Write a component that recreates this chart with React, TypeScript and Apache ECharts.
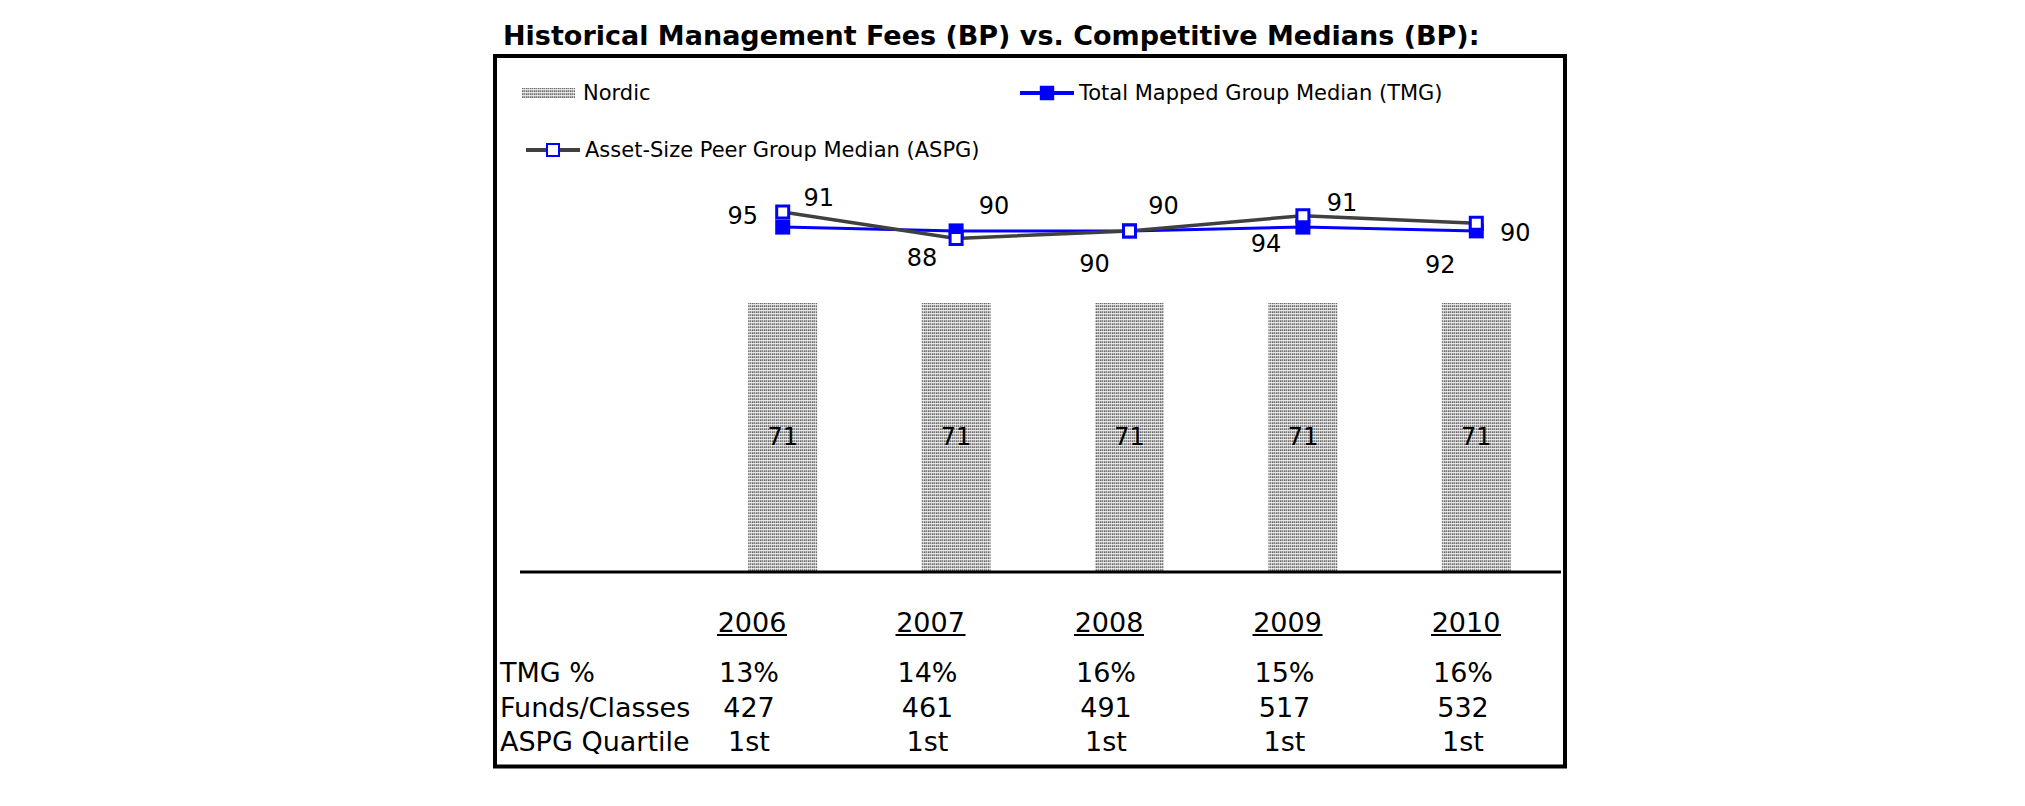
import React, { useEffect, useRef } from "react";
import * as echarts from "echarts";

// ---- data ----
const years = ["2006", "2007", "2008", "2009", "2010"];
const nordic = [71, 71, 71, 71, 71];
const tmg = [91, 90, 90, 91, 90];
const aspg = [95, 88, 90, 94, 92];
const rowLabels = ["TMG %", "Funds/Classes", "ASPG Quartile"];
const tmgPct = ["13%", "14%", "16%", "15%", "16%"];
const fundsClasses = ["427", "461", "491", "517", "532"];
const aspgQuartile = ["1st", "1st", "1st", "1st", "1st"];
const titleText = "Historical Management Fees (BP) vs. Competitive Medians (BP):";
const nameNordic = "Nordic";
const nameTmg = "Total Mapped Group Median (TMG)";
const nameAspg = "Asset-Size Peer Group Median (ASPG)";

// ---- label placement (presentation only) ----
const tmgLabelOffsets = [[36, -29], [38, -25], [34, -25], [39, -24], [39, 2]];
const aspgLabelOffsets = [[-40, 4], [-34, 20], [-35, 33], [-37, 28], [-36, 42]];

const FONT = "'DejaVu Sans', Verdana, sans-serif";

function makePattern(): HTMLCanvasElement {
  const c = document.createElement("canvas");
  const px = [
    ["#6a6a6a", "#a8a8a8", "#7e7e7e", "#c4c4c4"],
    ["#dcdcdc", "#ebebeb", "#e0e0e0", "#f0f0f0"],
    ["#929292", "#bcbcbc", "#8a8a8a", "#d2d2d2"],
  ];
  c.width = px[0].length;
  c.height = px.length;
  const ctx = c.getContext("2d")!;
  px.forEach((row, y) =>
    row.forEach((col, x) => {
      ctx.fillStyle = col;
      ctx.fillRect(x, y, 1, 1);
    })
  );
  return c;
}

export default function App() {
  const ref = useRef<HTMLDivElement>(null);

  useEffect(() => {
    if (!ref.current) return;
    const chart = echarts.init(ref.current, null, { renderer: "svg" });

    const canvas = makePattern();
    const pattern: any = {
      image: canvas,
      repeat: "repeat",
      imageWidth: canvas.width,
      imageHeight: canvas.height,
    };

    const gridLeft = 696;
    const gridWidth = 867;
    const baseY = 572;

    // table
    const colX0 = 752;
    const colDX = 178.5;
    const yearY = 622;
    const rowYs = [672, 707, 741];
    const rows = [tmgPct, fundsClasses, aspgQuartile];
    const tableFont = `27px ${FONT}`;
    const graphics: any[] = [
      {
        type: "rect",
        z: 100,
        shape: { x: 495, y: 56, width: 1070, height: 710.5 },
        style: { fill: "none", stroke: "#000", lineWidth: 4 },
      },
      {
        type: "line",
        z: 100,
        shape: { x1: 520, y1: baseY, x2: gridLeft + gridWidth - 2, y2: baseY },
        style: { stroke: "#000", lineWidth: 3 },
      },
    ];
    years.forEach((yr, i) => {
      const cx = colX0 + i * colDX;
      graphics.push({
        type: "text",
        x: cx,
        y: yearY,
        style: { text: yr, font: tableFont, fill: "#000", align: "center", verticalAlign: "middle" },
      });
      graphics.push({
        type: "line",
        shape: { x1: cx - 35, y1: yearY + 13, x2: cx + 35, y2: yearY + 13 },
        style: { stroke: "#000", lineWidth: 2 },
      });
      rows.forEach((r, ri) => {
        graphics.push({
          type: "text",
          x: cx - 3,
          y: rowYs[ri],
          style: { text: r[i], font: tableFont, fill: "#000", align: "center", verticalAlign: "middle" },
        });
      });
    });
    rowLabels.forEach((lab, ri) => {
      graphics.push({
        type: "text",
        x: 500,
        y: rowYs[ri],
        style: { text: lab, font: tableFont, fill: "#000", align: "left", verticalAlign: "middle" },
      });
    });

    const legendText = { fontSize: 21, color: "#000", fontFamily: FONT, lineHeight: 24 };

    chart.setOption({
      animation: false,
      backgroundColor: "#fff",
      title: {
        text: titleText,
        left: 503,
        top: 22,
        padding: 0,
        textStyle: { fontSize: 27, fontWeight: "bold", color: "#000", fontFamily: FONT },
      },
      legend: [
        {
          data: [{ name: nameNordic, icon: "rect" }],
          left: 522,
          top: 81,
          padding: 0,
          itemWidth: 53,
          itemHeight: 10,
          textStyle: { ...legendText, padding: [0, 0, 0, 3] },
        },
        {
          data: [nameTmg],
          left: 1018,
          top: 81,
          padding: 0,
          itemWidth: 54,
          itemHeight: 18,
          lineStyle: { width: 4 },
          textStyle: legendText,
        },
        {
          data: [nameAspg],
          left: 524,
          top: 138,
          padding: 0,
          itemWidth: 54,
          itemHeight: 15,
          lineStyle: { width: 4 },
          textStyle: legendText,
        },
      ],
      grid: { left: gridLeft, width: gridWidth, top: 193, bottom: 806 - baseY },
      xAxis: {
        type: "category",
        data: years,
        axisLine: { show: false },
        axisTick: { show: false },
        axisLabel: { show: false },
        splitLine: { show: false },
      },
      yAxis: { type: "value", min: 0, max: 100, show: false },
      graphic: graphics,
      series: [
        {
          name: nameNordic,
          type: "bar",
          data: nordic,
          barWidth: 69,
          itemStyle: { color: pattern },
          label: {
            show: true,
            position: "inside",
            fontSize: 24,
            color: "#000",
            fontFamily: FONT,
          },
        },
        {
          name: nameTmg,
          type: "line",
          data: tmg.map((v, i) => ({
            value: v,
            label: { offset: tmgLabelOffsets[i] },
          })),
          symbol: "rect",
          symbolSize: 15,
          itemStyle: { color: "#0000ff" },
          lineStyle: { color: "#0000ff", width: 3 },
          label: {
            show: true,
            position: "inside",
            fontSize: 24,
            color: "#000",
            fontFamily: FONT,
          },
        },
        {
          name: nameAspg,
          type: "line",
          data: aspg.map((v, i) => ({
            value: v,
            label: { offset: aspgLabelOffsets[i] },
          })),
          symbol: "rect",
          symbolSize: 12,
          itemStyle: { color: "#ffffff", borderColor: "#0000ff", borderWidth: 3 },
          lineStyle: { color: "#404040", width: 3.5 },
          label: {
            show: true,
            position: "inside",
            fontSize: 24,
            color: "#000",
            fontFamily: FONT,
          },
        },
      ],
    });

    return () => chart.dispose();
  }, []);

  return (
    <div
      ref={ref}
      style={{ position: "absolute", left: 0, top: 0, width: 2025, height: 806 }}
    />
  );
}
